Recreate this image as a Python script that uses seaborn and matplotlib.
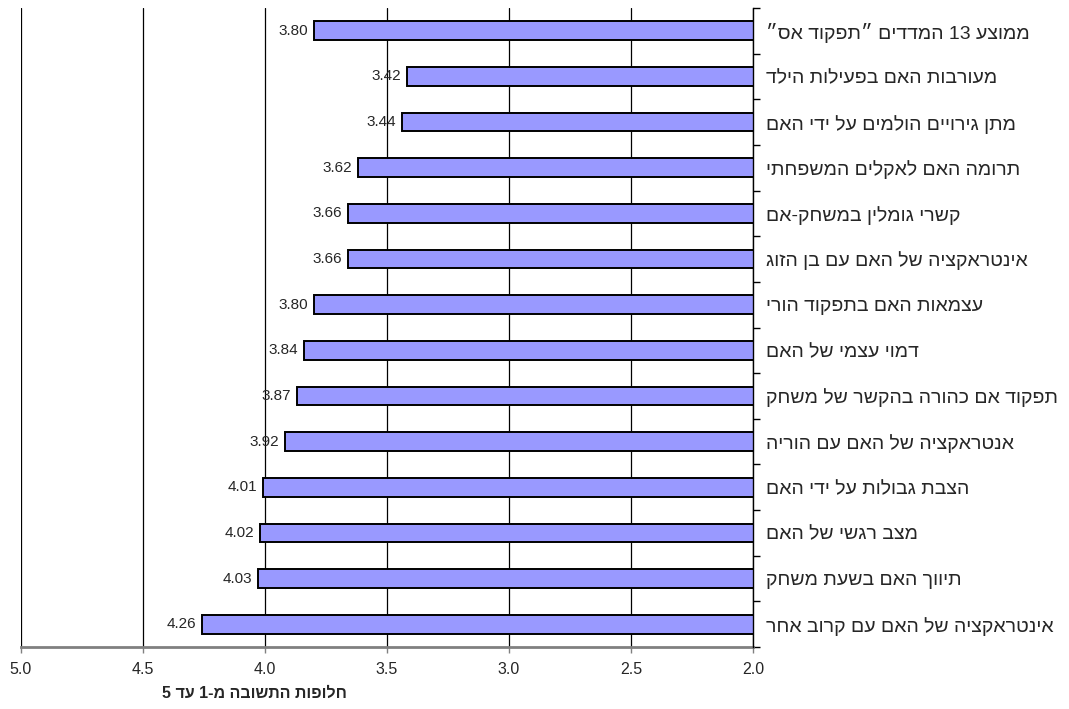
import re
import matplotlib
matplotlib.use("Agg")
import matplotlib.pyplot as plt
import pandas as pd
import seaborn as sns

# -----------------------------
# Data (top to bottom as shown)
# -----------------------------
LABELS = [
    'ממוצע 13 המדדים ״תפקוד אס״',
    "מעורבות האם בפעילות הילד",
    "מתן גירויים הולמים על ידי האם",
    "תרומה האם לאקלים המשפחתי",
    "קשרי גומלין במשחק-אם",
    "אינטראקציה של האם עם בן הזוג",
    "עצמאות האם בתפקוד הורי",
    "דמוי עצמי של האם",
    "תפקוד אם כהורה בהקשר של משחק",
    "אנטראקציה של האם עם הוריה",
    "הצבת גבולות על ידי האם",
    "מצב רגשי של האם",
    "תיווך האם בשעת משחק",
    "אינטראקציה של האם עם קרוב אחר",
]
VALUES = [3.80, 3.42, 3.44, 3.62, 3.66, 3.66, 3.80, 3.84, 3.87, 3.92, 4.01, 4.02, 4.03, 4.26]
X_TICKS = [5.0, 4.5, 4.0, 3.5, 3.0, 2.5, 2.0]
X_LABEL = "חלופות התשובה מ-1 עד 5"

BAR_COLOR = "#9999FF"
FONTS = ["Liberation Sans", "DejaVu Sans"]


def visual(s):
    """matplotlib has no bidi: reverse the string, keep digit runs readable."""
    rev = s[::-1]
    return re.sub(r"[0-9.]+", lambda m: m.group(0)[::-1], rev)


def main():
    sns.set_style("white")
    plt.rcParams["font.family"] = FONTS

    df = pd.DataFrame({"label": [visual(t) for t in LABELS], "value": VALUES})

    fig = plt.figure(figsize=(10.69, 7.09), dpi=100)
    ax = fig.add_axes([21 / 1069, 1 - 647 / 709, (753 - 21) / 1069, (647 - 8) / 709])

    sns.barplot(data=df, x="value", y="label", orient="h", color=BAR_COLOR,
                saturation=1, width=0.41, edgecolor="black", linewidth=1.4, ax=ax)
    # bars hide the grid lines behind them
    ax.set_axisbelow(True)
    for p in ax.patches:
        p.set_zorder(3)

    ax.set_xlim(5.0, 2.0)
    ax.set_ylim(len(LABELS) - 0.5, -0.5)
    ax.set_xticks(X_TICKS)
    ax.set_xticklabels([f"{t:.1f}" for t in X_TICKS], fontsize=11.5)
    ax.xaxis.grid(True, color="black", linewidth=0.9)

    # category labels on the right, tick marks between categories
    ax.yaxis.tick_right()
    ax.set_yticks(range(len(LABELS)))
    ax.set_yticklabels(df["label"], fontsize=14)
    ax.set_yticks([i - 0.5 for i in range(len(LABELS) + 1)], minor=True)
    ax.tick_params(axis="y", which="major", length=0, pad=9)
    ax.tick_params(axis="y", which="minor", right=True, left=False, length=5,
                   width=1, color="black", direction="out")
    ax.tick_params(axis="x", length=4, width=1, color="#808080", pad=7, bottom=True)
    ax.set_ylabel("")
    ax.set_xlabel("")

    for side in ["top", "left"]:
        ax.spines[side].set_visible(False)
    ax.spines["right"].set_color("black")
    ax.spines["right"].set_linewidth(1.0)
    ax.spines["right"].set_zorder(4)
    ax.spines["bottom"].set_color("#808080")
    ax.spines["bottom"].set_linewidth(2.0)

    # value labels at the bar ends
    for i, v in enumerate(VALUES):
        ax.annotate(f"{v:.2f}", xy=(v, i), xytext=(-4, 0), textcoords="offset points",
                    ha="right", va="center", fontsize=11, zorder=5)

    fig.text(254 / 1069, 1 - 693 / 709, visual(X_LABEL), ha="center", va="center",
             fontsize=11.5, fontweight="bold")

    fig.savefig("out.png", dpi=100)
    plt.close(fig)


if __name__ == "__main__":
    main()
